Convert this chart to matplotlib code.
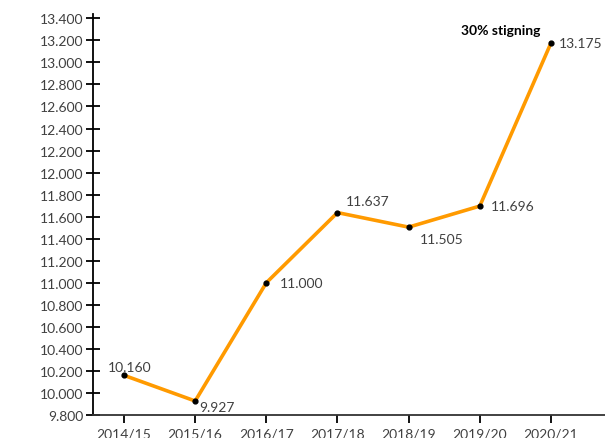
import matplotlib
matplotlib.use("Agg")
import matplotlib.pyplot as plt
from matplotlib.ticker import FuncFormatter, MultipleLocator

plt.rcParams['font.family'] = ['Lato', 'DejaVu Sans']

categories = ["2014/15", "2015/16", "2016/17", "2017/18", "2018/19", "2019/20", "2020/21"]
values = [10160, 9927, 11000, 11637, 11505, 11696, 13175]
label_offsets = [(4, 2, 'center', 'bottom'), (3, -4, 'left', 'center'), (10, 0, 'left', 'center'),
                 (6, 4, 'left', 'bottom'), (8, -4, 'left', 'top'), (8, 0, 'left', 'center'),
                 (6, 0, 'left', 'center')]

def fmt(v):
    return f"{v:,.0f}".replace(",", ".")

fig = plt.figure(figsize=(6.05, 4.39), dpi=100)
ax = fig.add_axes([0.1537, 0.0524, 0.8463, 0.9136])
x = list(range(len(categories)))
ax.plot(x, values, color='#FF9A00', lw=2.6, zorder=2)
ax.scatter(x, values, color='black', s=12, zorder=3)

txt = '#404040'
for xi, v, (dx, dy, ha, va) in zip(x, values, label_offsets):
    ax.annotate(fmt(v), (xi, v), xytext=(dx, dy), textcoords='offset points',
                ha=ha, va=va, fontsize=10, color=txt)

ax.annotate("30% stigning", (5.3, 13180), xytext=(0, 5), textcoords='offset points',
            ha='center', va='bottom', fontsize=10, fontweight='bold', color='black')

ax.set_xlim(-0.436, 6.76)
ax.set_ylim(9800, 13440)
ax.yaxis.set_major_locator(MultipleLocator(200))
ax.yaxis.set_major_formatter(FuncFormatter(lambda v, p: fmt(v)))
ax.set_xticks(x)
ax.set_xticklabels(categories)

for s in ['top', 'right']:
    ax.spines[s].set_visible(False)
ax.spines['left'].set_linewidth(1.3)
ax.spines['bottom'].set_linewidth(1.3)
ax.spines['bottom'].set_color('#333333')
ax.tick_params(axis='y', direction='inout', length=10, width=1.3, labelsize=10, labelcolor=txt, pad=2)
ax.tick_params(axis='x', direction='out', length=6, width=1.3, labelsize=10, labelcolor=txt, pad=3)

fig.savefig("out.png", dpi=100)
